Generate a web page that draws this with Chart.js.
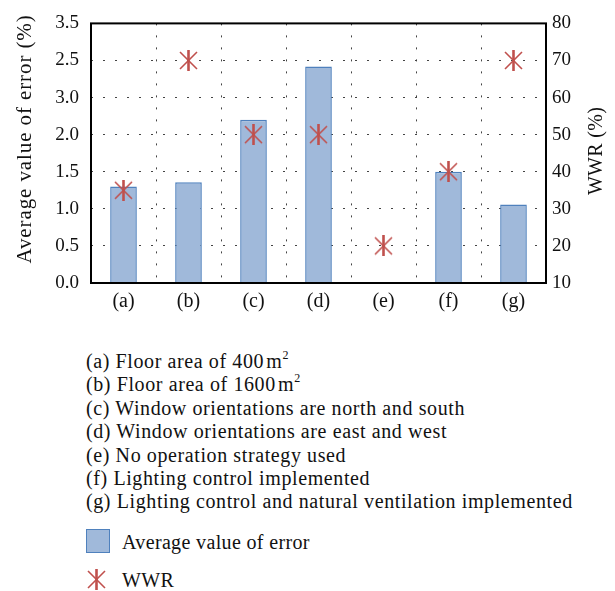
<!DOCTYPE html>
<html>
<head>
<meta charset="utf-8">
<script src="https://cdn.jsdelivr.net/npm/chart.js@4/dist/chart.umd.min.js"></script>
<style>
  html, body { margin: 0; padding: 0; background: #fff; }
  body { width: 615px; height: 591px; position: relative; overflow: hidden; font-family: "Liberation Serif", "DejaVu Serif", serif; color: #111; }
  #wrap { position: absolute; left: 0; top: 0; width: 615px; height: 330px; }
  #desc { position: absolute; left: 86px; top: 350px; font-size: 20px; letter-spacing: 0.6px; line-height: 23.4px; white-space: nowrap; }
  #desc sup { font-size: 12px; vertical-align: 0; position: relative; top: -9px; line-height: 0; }
  .leg { position: absolute; left: 86px; font-size: 20px; letter-spacing: 0.35px; white-space: nowrap; }
  .leg .txt { position: absolute; left: 36px; top: 50%; transform: translateY(-50%); }
  #leg1 { top: 529px; width: 320px; height: 25px; }
  #leg1 .box { position: absolute; left: 0; top: 0; width: 22px; height: 22px; background: rgb(160,185,218); border: 1.5px solid rgb(79,129,189); }
  #leg2 { top: 569px; width: 320px; height: 22px; }
  #leg2 canvas { position: absolute; left: 0; top: 0; }
</style>
</head>
<body>
<div id="wrap"><canvas id="c"></canvas></div>
<div id="desc">
  <div>(a) Floor area of 400&#8202;m<sup>2</sup></div>
  <div>(b) Floor area of 1600&#8202;m<sup>2</sup></div>
  <div>(c) Window orientations are north and south</div>
  <div>(d) Window orientations are east and west</div>
  <div>(e) No operation strategy used</div>
  <div>(f) Lighting control implemented</div>
  <div>(g) Lighting control and natural ventilation implemented</div>
</div>
<div class="leg" id="leg1"><div class="box"></div><span class="txt">Average value of error</span></div>
<div class="leg" id="leg2"><span class="txt">WWR</span></div>
<script>
// ---- data ----
const categories = ['(a)', '(b)', '(c)', '(d)', '(e)', '(f)', '(g)'];
const avgError = [1.30, 1.36, 2.20, 2.92, null, 1.50, 1.06];
const wwr = [35, 70, 50, 50, 20, 40, 70];
// left tick labels exactly as printed (bottom to top)
const leftTickLabels = ['0.0', '0.5', '1.0', '1.5', '2.0', '3.0', '2.5', '3.5'];
const rightTickLabels = ['10', '20', '30', '40', '50', '60', '70', '80'];
const seriesNames = ['Average value of error', 'WWR'];
const leftTitle = 'Average value of error (%)';
const rightTitle = 'WWR (%)';

const RED = 'rgb(192,80,77)';
const FONT = '"Liberation Serif", "DejaVu Serif", serif';

function makeStar(size) {
  const cv = document.createElement('canvas');
  cv.width = size; cv.height = size;
  const g = cv.getContext('2d');
  g.strokeStyle = RED;
  const m = size / 2;
  g.lineWidth = 1.6;
  g.beginPath();
  g.moveTo(2, 2); g.lineTo(size - 2, size - 2);
  g.moveTo(2, size - 2); g.lineTo(size - 2, 2);
  g.stroke();
  g.lineWidth = 2.6;
  g.beginPath();
  g.moveTo(m, 0); g.lineTo(m, size);
  g.stroke();
  return cv;
}
const starPoint = makeStar(21);
const starLegend = makeStar(21);
document.getElementById('leg2').appendChild(starLegend);

function drawVTitle(ctx, text, x, y, size, spacing) {
  ctx.save();
  ctx.fillStyle = '#111';
  ctx.font = size + 'px ' + FONT;
  if ('letterSpacing' in ctx) ctx.letterSpacing = spacing + 'px';
  ctx.textAlign = 'center';
  ctx.textBaseline = 'middle';
  ctx.translate(x, y);
  ctx.rotate(-Math.PI / 2);
  ctx.fillText(text, 0, 0);
  ctx.restore();
}

const framePlugin = {
  id: 'frameAndTitles',
  afterDraw(chart) {
    const { ctx, chartArea: a } = chart;
    ctx.save();
    ctx.strokeStyle = '#000';
    ctx.lineWidth = 2;
    ctx.strokeRect(a.left, a.top, a.right - a.left, a.bottom - a.top);
    ctx.restore();
    drawVTitle(ctx, leftTitle, 25, 139, 21, 0.9);
    drawVTitle(ctx, rightTitle, 597, 151, 20, 0.3);
  }
};

function build() {
  new Chart(document.getElementById('c'), {
    data: {
      labels: categories,
      datasets: [
        {
          type: 'line',
          label: seriesNames[1],
          data: wwr,
          yAxisID: 'y1',
          showLine: false,
          pointStyle: starPoint,
          pointRadius: 10,
          order: 0
        },
        {
          type: 'bar',
          label: seriesNames[0],
          data: avgError,
          yAxisID: 'y',
          backgroundColor: 'rgb(160,185,218)',
          borderColor: 'rgb(79,129,189)',
          borderWidth: 1.5,
          barPercentage: 0.41,
          categoryPercentage: 1.0,
          order: 1
        }
      ]
    },
    options: {
      responsive: true,
      maintainAspectRatio: false,
      animation: false,
      events: [],
      layout: { padding: { top: 7, left: 0, right: 0, bottom: 0 } },
      plugins: { legend: { display: false }, tooltip: { enabled: false } },
      scales: {
        x: {
          offset: true,
          grid: { display: true, offset: true, color: '#444', lineWidth: 1, drawTicks: false },
          border: { display: false, dash: [2, 10] },
          ticks: { color: '#111', font: { family: FONT, size: 20 }, padding: 7 },
          afterFit(s) { s.height = 47; }
        },
        y: {
          position: 'left',
          min: 0, max: 3.5,
          grid: { color: '#444', lineWidth: 1, drawTicks: false },
          border: { display: false, dash: [2, 10] },
          ticks: {
            stepSize: 0.5, color: '#111', font: { family: FONT, size: 19 }, padding: 12,
            callback: (v, i) => leftTickLabels[i]
          },
          afterFit(s) { s.width = 91; }
        },
        y1: {
          position: 'right',
          min: 10, max: 80,
          grid: { display: false, drawTicks: false },
          border: { display: false },
          ticks: {
            stepSize: 10, color: '#111', font: { family: FONT, size: 19 }, padding: 6,
            callback: (v, i) => rightTickLabels[i]
          },
          afterFit(s) { s.width = 69; }
        }
      }
    },
    plugins: [framePlugin]
  });
}

Promise.all([
  document.fonts.load('19px "Liberation Serif"'),
  document.fonts.load('20px "Liberation Serif"')
]).then(build, build);
</script>
</body>
</html>
